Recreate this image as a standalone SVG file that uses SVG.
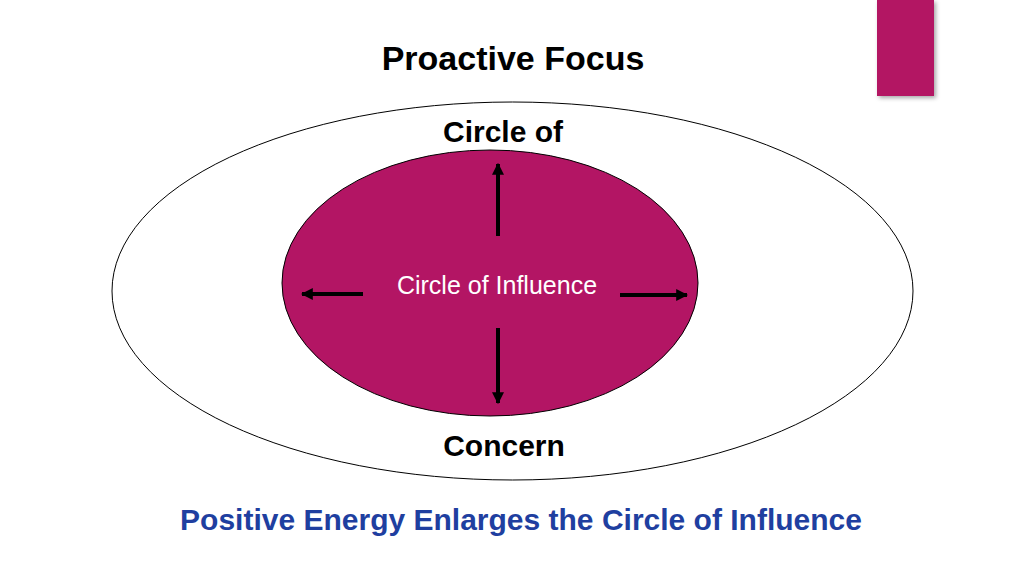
<svg xmlns="http://www.w3.org/2000/svg" width="1024" height="576" viewBox="0 0 1024 576">
<style>
.b{font-family:"Liberation Sans",Arial,sans-serif;font-weight:bold;fill:#000;text-anchor:middle}
.arr{stroke:#000;stroke-width:4;fill:none;marker-end:url(#ah)}
</style>
<defs>
<marker id="ah" viewBox="0 0 10 10" refX="9" refY="5" markerWidth="3" markerHeight="3" orient="auto"><path d="M0,0L10,5L0,10z" fill="#000"/></marker>
<filter id="sh" x="-20%" y="-20%" width="150%" height="150%"><feDropShadow dx="2" dy="2" stdDeviation="2" flood-opacity="0.35"/></filter>
</defs>
<rect width="1024" height="576" fill="#fff"/>
<g id="accent"><rect x="877" y="0" width="57" height="96" fill="#B31564" filter="url(#sh)"/></g>
<g id="title"><text class="b" x="513" y="70" font-size="34">Proactive Focus</text></g>
<g id="concern">
<ellipse cx="512.5" cy="291" rx="400.5" ry="189" fill="none" stroke="#000" stroke-width="1"/>
<text class="b" x="503" y="142" font-size="30">Circle of</text>
<text class="b" x="504" y="456" font-size="30">Concern</text>
</g>
<g id="influence">
<ellipse cx="490" cy="283" rx="208" ry="133" fill="#B31564" stroke="#000" stroke-width="1"/>
<text x="497" y="294" font-size="25" fill="#fff" text-anchor="middle" font-family="Liberation Sans,Arial,sans-serif">Circle of Influence</text>
</g>
<g id="connectors">
<line class="arr" x1="498" y1="236" x2="498" y2="164"/>
<line class="arr" x1="498" y1="328" x2="498" y2="403"/>
<line class="arr" x1="363" y1="294" x2="302" y2="294"/>
<line class="arr" x1="620" y1="295" x2="687" y2="295"/>
</g>
<g id="caption"><text class="b" x="521" y="530" font-size="30" fill="#1F3FA0" style="fill:#1F3FA0">Positive Energy Enlarges the Circle of Influence</text></g>
</svg>
